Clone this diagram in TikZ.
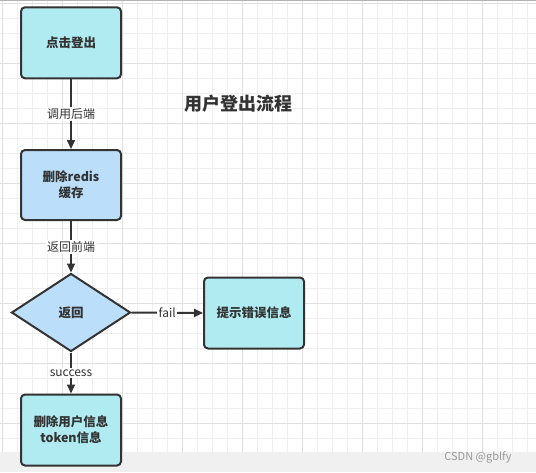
\documentclass[tikz,border=0pt]{standalone}
\usepackage{fontspec}
\setmainfont{Noto Sans CJK SC}
\usetikzlibrary{shapes.geometric, arrows.meta}
\definecolor{box-cyan}{HTML}{B1EBF2}
\definecolor{box-blue}{HTML}{BBDEFB}
\definecolor{edge-dark}{HTML}{333333}
\definecolor{grid-minor}{HTML}{EFEFEF}
\definecolor{grid-major}{HTML}{E0E0E0}
\definecolor{strip-bg}{HTML}{F0F0F0}

\begin{document}
\begin{tikzpicture}[x=1pt, y=-1pt,
        every node/.style={text=edge-dark},
        stepbox/.style={draw=edge-dark, line width=2pt, rounded corners=4pt,
            minimum width=100pt, minimum height=71pt, align=center,
            font=\fontsize{12.5}{16}\selectfont\bfseries},
        decide/.style={diamond, draw=edge-dark, line width=2pt, fill=box-blue,
            minimum width=119pt, minimum height=78pt, inner sep=0pt,
            font=\fontsize{12.5}{16}\selectfont\bfseries},
        flow/.style={-{Triangle[width=8pt,length=9pt]}, draw=edge-dark, line width=2pt},
        lbl/.style={fill=white, inner sep=1.5pt, font=\fontsize{12}{14}\selectfont}]
      \useasboundingbox (0,0) rectangle (536,472);
      % background grid
      \fill[white] (0,0) rectangle (536,451.7);
      \foreach \i in {0,...,35}
        \draw[grid-minor, line width=1pt] ({2.7+15*\i},0) -- ({2.7+15*\i},451.7);
      \foreach \j in {0,...,29}
        \draw[grid-minor, line width=1pt] (0,{3.3+15*\j}) -- (536,{3.3+15*\j});
      \foreach \i in {0,...,8}
        \draw[grid-major, line width=1pt] ({2.7+60*\i},0) -- ({2.7+60*\i},451.7);
      \foreach \j in {0,...,7}
        \draw[grid-major, line width=1pt] (0,{3.3+60*\j}) -- (536,{3.3+60*\j});
      \draw[gray!60, line width=1pt] (0,0.5) -- (536,0.5);
      \fill[strip-bg] (0,451.7) rectangle (536,472);

      \node[stepbox, fill=box-cyan] (OUT) at (71,42.8) {点击登出};
      \node[stepbox, fill=box-blue, minimum height=70pt] (RDS) at (71,185) {删除redis\\缓存};
      \node[decide] (RET) at (71,312.5) {返回};
      \node[stepbox, fill=box-cyan] (ERR) at (254,313) {提示错误信息};
      \node[stepbox, fill=box-cyan] (TOK) at (71,430) {删除用户信息\\token信息};

      \draw[flow] (OUT.south) -- node[lbl] (L1) {调用后端} (RDS.north);
      \draw[flow] (RDS.south) -- node[lbl] (L2) {返回前端} (RET.north);
      \draw[flow] (RET.east) -- node[lbl] (L3) {fail} (ERR.west);
      \draw[flow] (RET.south) -- node[lbl] (L4) {success} (TOK.north);

      \node[font=\fontsize{18}{20}\selectfont\bfseries] (TTL) at (238,104) {用户登出流程};
      \node[font=\fontsize{11}{13}\selectfont, text=gray!80] (WM) at (478,457) {CSDN @gblfy};
    \end{tikzpicture}
\end{document}
